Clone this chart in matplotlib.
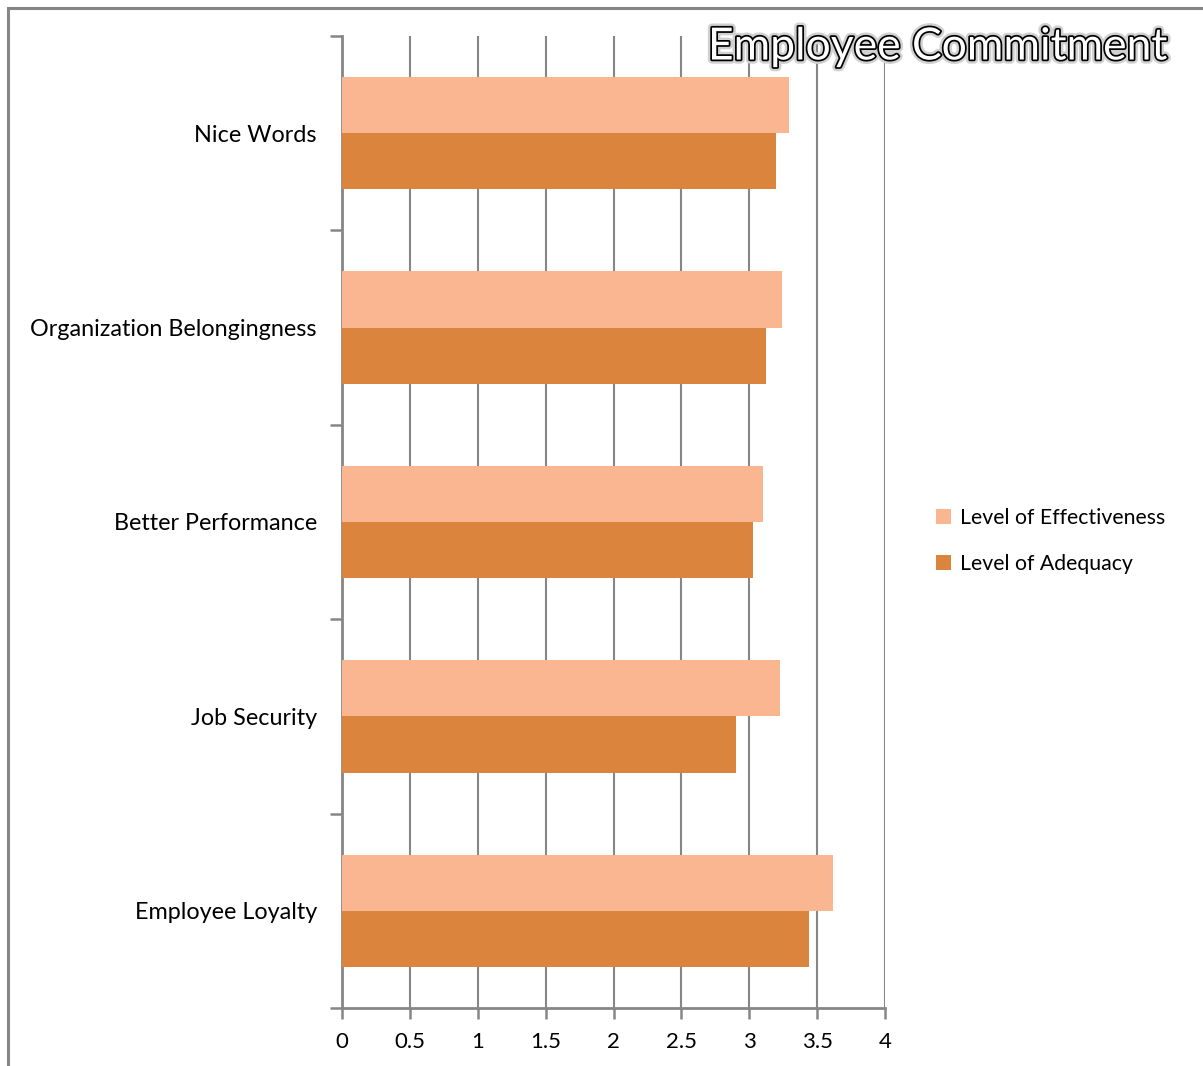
import numpy as np
import matplotlib.pyplot as plt
import matplotlib.patheffects as pe
from matplotlib.patches import Rectangle

# categories listed bottom to top
categories = ['Employee Loyalty', 'Job Security', 'Better Performance',
              'Organization Belongingness', 'Nice Words']
effectiveness = [3.62, 3.23, 3.10, 3.24, 3.29]
adequacy = [3.44, 2.90, 3.03, 3.12, 3.20]
x_ticks = [0, 0.5, 1, 1.5, 2, 2.5, 3, 3.5, 4]
x_labels = ['0', '0.5', '1', '1.5', '2', '2.5', '3', '3.5', '4']

plt.rcParams['font.family'] = ['Lato', 'DejaVu Sans']

W, H = 1203, 1066
fig = plt.figure(figsize=(W / 100, H / 100), dpi=100)

# outer frame (only top and left edges visible in picture)
fig.patches.append(Rectangle((8 / W, -0.1), 1.2, 1 - 8 / H + 0.1, transform=fig.transFigure,
                             fill=False, edgecolor='#868686', linewidth=2.2))

ax = fig.add_axes([342 / W, 1 - 1008 / H, (885 - 342) / W, (1008 - 36) / H])

y = np.arange(len(categories))
h = 0.289
ax.barh(y + h / 2, effectiveness, height=h, color='#F9B690', label='Level of Effectiveness', zorder=3)
ax.barh(y - h / 2, adequacy, height=h, color='#DB843D', label='Level of Adequacy', zorder=3)

ax.set_xlim(0, 4)
ax.set_ylim(-0.5, len(categories) - 0.5)
ax.set_xticks(x_ticks)
ax.set_xticklabels(x_labels, fontsize=16)
ax.set_yticks(y)
ax.set_yticklabels(categories, fontsize=16.8)
ax.set_yticks(np.arange(len(categories) + 1) - 0.5, minor=True)

ax.grid(axis='x', color='#868686', linewidth=1.5, zorder=0)
for s in ['top', 'right']:
    ax.spines[s].set_visible(False)
for s in ['left', 'bottom']:
    ax.spines[s].set_color('#868686')
    ax.spines[s].set_linewidth(2)
ax.tick_params(axis='y', which='major', length=0, pad=18)
ax.tick_params(axis='y', which='minor', length=9, width=1.8, color='#868686', direction='out')
ax.tick_params(axis='x', length=8, width=1.8, color='#868686', pad=9)

fig.text(938 / W, 1 - 47 / H, 'Employee Commitment', fontsize=32, color='white',
         ha='center', va='center',
         path_effects=[pe.withStroke(linewidth=6, foreground='#d0d0d0'),
                       pe.withStroke(linewidth=2.5, foreground='black')])

leg = fig.legend(loc='center left', bbox_to_anchor=(917 / W, 1 - 541 / H), frameon=False,
                 fontsize=15.3, handlelength=0.7, handleheight=0.7, handletextpad=0.4,
                 labelspacing=1.2)

fig.savefig('out.png', dpi=100)
